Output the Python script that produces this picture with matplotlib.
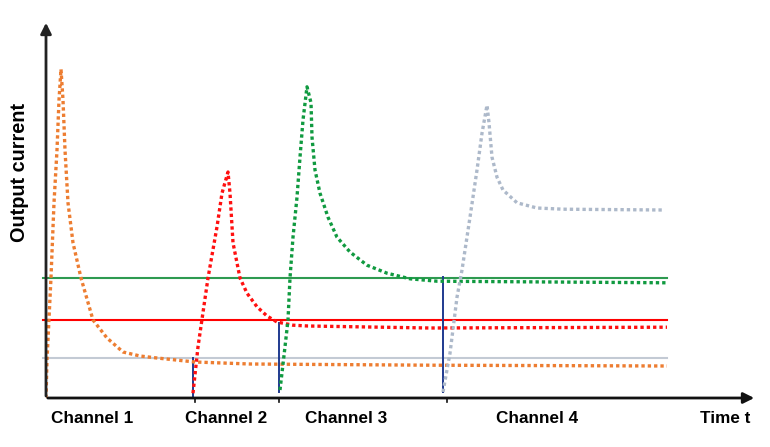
import matplotlib
matplotlib.use('Agg')
import matplotlib.pyplot as plt

plt.rcParams['font.family'] = ['Liberation Sans', 'DejaVu Sans']

# channel 1 (orange)
t1 = [0, 0.1, 0.5, 0.8, 1.1, 1.3, 1.5, 1.7, 1.9, 2.2, 2.7, 3.5, 4.7, 6.1, 7.7, 9.4, 11.1, 14.9, 20.4, 38.4, 62.1]
c1 = [0, 9.5, 30.2, 48.8, 62, 74.5, 82.2, 74.5, 62, 48.8, 38.8, 30, 19.5, 15, 11.5, 10.5, 10, 9, 8.5, 8.2, 8]
# channel 2 (red)
t2 = [14.7, 15.2, 16.2, 17.1, 17.6, 18.2, 18.4, 18.7, 19.4, 20.1, 21.1, 22.1, 23.1, 24.7, 26.2, 38.4, 62.1]
c2 = [1.2, 12.8, 30, 42.8, 51.2, 56.5, 51.2, 38.8, 30, 26.2, 22.8, 20.5, 19, 18.2, 18, 17.5, 17.7]
# channel 3 (green)
t3 = [23.4, 23.9, 24.2, 24.4, 24.7, 25.1, 25.4, 25.7, 26.1, 26.5, 26.6, 26.9, 27.4, 28.2, 29.1, 30.4, 32.1, 34.1, 36.4, 39.1, 62.1]
c3 = [2, 12.8, 19.5, 30, 40.2, 50.2, 60.2, 69.5, 77.8, 73.8, 65.2, 57, 51.2, 45.2, 40.2, 36.5, 33.2, 31.2, 29.8, 29.2, 28.8]
# channel 4 (grey blue)
t4 = [39.7, 40.4, 41.1, 41.6, 42.4, 43.1, 43.6, 44.1, 44.3, 44.6, 45.1, 45.7, 47.1, 49.1, 51.7, 61.7]
c4 = [1.5, 11.2, 25.2, 32, 45.2, 57, 66.2, 73.2, 68.8, 60.2, 55.2, 52, 48.8, 47.5, 47.2, 47]

# threshold levels
levels = [30, 19.5, 10]
level_colors = ['#2E9A50', '#FF0000', '#C3CAD4']

# switch points: time, bottom, top
switch_t = [14.7, 23.3, 39.7]
switch_lo = [0, 1.5, 1.5]
switch_hi = [10, 18.8, 30.2]
tick_t = [14.9, 23.3, 40.1]

labels = ['Channel 1', 'Channel 2', 'Channel 3', 'Channel 4', 'Time t']
label_t = [4.6, 18, 30, 49.1, 67.9]

fig = plt.figure(figsize=(7.7, 4.47), dpi=100)
ax = fig.add_axes([46/770, 49/447, 711/770, 378/447])
ax.set_xlim(0, 71.1)
ax.set_ylim(0, 94.5)
ax.axis('off')

for lv, col in zip(levels, level_colors):
    ax.plot([-0.3, 62.1], [lv, lv], color=col, lw=1.5, clip_on=False)

for x, lo, hi in zip(switch_t, switch_lo, switch_hi):
    ax.plot([x, x], [lo, hi], color='#1F3A8F', lw=1.4)

dot = (0, (1, 0.9))
ax.plot(t1, c1, color='#ED7D31', lw=2.4, ls=dot)
ax.plot(t2, c2, color='#FF1010', lw=2.4, ls=dot)
ax.plot(t3, c3, color='#109A40', lw=2.4, ls=dot)
ax.plot(t4, c4, color='#ADB9CA', lw=2.4, ls=dot)

# axes with arrows
ax.annotate('', xy=(71.1, 0), xytext=(-0.1, 0),
            arrowprops=dict(arrowstyle='-|>', color='#111111', lw=2, mutation_scale=16),
            annotation_clip=False)
ax.annotate('', xy=(0, 94.5), xytext=(0, -0.2),
            arrowprops=dict(arrowstyle='-|>', color='#222222', lw=2, mutation_scale=16),
            annotation_clip=False)

for x in tick_t:
    ax.plot([x, x], [0, -1], color='#111111', lw=1.2, clip_on=False)

for lab, x in zip(labels, label_t):
    ax.text(x, -5.2, lab, ha='center', va='center', fontsize=12.3, fontweight='bold')

fig.text(20/770, 1 - 172/447, 'Output current', rotation=90, ha='center', va='center',
         fontsize=14.3, fontweight='bold')

fig.savefig('out.png', dpi=100)
